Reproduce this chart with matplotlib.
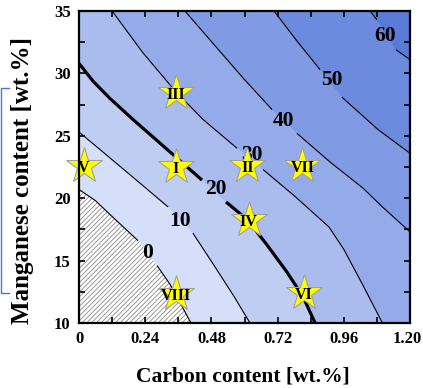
import matplotlib
matplotlib.use("Agg")
import matplotlib.pyplot as plt
import matplotlib.transforms as mtransforms
from matplotlib.ticker import MultipleLocator, FixedLocator
from matplotlib.patches import Polygon
import matplotlib.lines as mlines

# ---- data (carbon wt.%, manganese wt.%) ----
levels = [0, 10, 20, 30, 40, 50, 60]

iso0_c = [0.0, 0.06, 0.112, 0.214, 0.283, 0.33, 0.406]
iso0_mn = [20.7, 19.8, 18.7, 16.6, 14.6, 13.1, 10.0]
iso10_c = [0.0, 0.076, 0.20, 0.323, 0.413, 0.49, 0.56, 0.62]
iso10_mn = [25.3, 23.9, 21.6, 19.3, 17.2, 14.6, 12.2, 10.0]
iso20_c = [0.0, 0.05, 0.112, 0.196, 0.32, 0.446, 0.533, 0.609, 0.68, 0.75, 0.81, 0.856]
iso20_mn = [30.8, 29.4, 28.0, 26.3, 23.9, 21.45, 19.7, 18.3, 16.3, 14.2, 12.2, 10.0]
iso30_c = [0.12, 0.23, 0.348, 0.45, 0.573, 0.667, 0.78, 0.906, 0.96, 1.03, 1.1]
iso30_mn = [35.0, 31.7, 28.6, 26.3, 24.0, 22.3, 20.2, 17.7, 15.9, 13.0, 10.0]
iso40_c = [0.384, 0.482, 0.60, 0.70, 0.79, 0.91, 1.03, 1.1, 1.2]
iso40_mn = [35.0, 32.5, 29.5, 27.1, 25.2, 22.9, 20.8, 19.3, 17.3]
iso50_c = [0.707, 0.79, 0.874, 0.953, 1.084, 1.2]
iso50_mn = [35.0, 32.6, 30.3, 28.1, 25.5, 23.6]
iso60_c = [1.055, 1.08, 1.149, 1.2]
iso60_mn = [35.0, 34.3, 31.9, 31.1]
# index of the point after which the inline label breaks the line
label_gap = [3, 3, 5, 4, 3, 2, 1]
label_c = [0.247, 0.366, 0.497, 0.627, 0.743, 0.917, 1.109]
label_mn = [15.6, 18.2, 20.7, 23.5, 26.2, 29.5, 33.0]

fill_colors = ["#d6dff8", "#bfcdf3", "#aabcee", "#95abe9", "#809ae3", "#6c8ade", "#5a7ad8"]

samples = ["I", "II", "III", "IV", "V", "VI", "VII", "VIII"]
sample_c = [0.35, 0.61, 0.35, 0.615, 0.018, 0.815, 0.81, 0.352]
sample_mn = [22.5, 22.6, 28.4, 18.25, 22.6, 12.4, 22.6, 12.3]

x_ticks = [0, 0.24, 0.48, 0.72, 0.96, 1.20]
x_tick_labels = ["0", "0.24", "0.48", "0.72", "0.96", "1.20"]
y_ticks = [10, 15, 20, 25, 30, 35]

iso_c = [iso0_c, iso10_c, iso20_c, iso30_c, iso40_c, iso50_c, iso60_c]
iso_mn = [iso0_mn, iso10_mn, iso20_mn, iso30_mn, iso40_mn, iso50_mn, iso60_mn]

XMIN, XMAX, YMIN, YMAX = 0.0, 1.2, 10.0, 35.0

plt.rcParams["hatch.linewidth"] = 0.6
serif = ["Liberation Serif", "DejaVu Serif"]

fig = plt.figure(figsize=(4.23, 3.88), dpi=100)
ax = fig.add_axes([79 / 423, 1 - 323 / 388, 331 / 423, 312 / 388])
ax.set_xlim(XMIN, XMAX)
ax.set_ylim(YMIN, YMAX)

# hatched region (below 0)
ax.add_patch(Polygon([(XMIN, YMIN), (XMAX, YMIN), (XMAX, YMAX), (XMIN, YMAX)],
                     closed=True, facecolor="white", edgecolor="#8a8a8a",
                     hatch="///////", lw=0, zorder=0.5))

# filled bands: region above each iso-line
for k, (cs, ms) in enumerate(zip(iso_c, iso_mn)):
    pts = list(zip(cs, ms))
    if abs(ms[-1] - YMIN) < 1e-9:
        pts.append((XMAX, YMIN))
    pts.append((XMAX, YMAX))
    if abs(cs[0] - XMIN) < 1e-9:
        pts.append((XMIN, YMAX))
    ax.add_patch(Polygon(pts, closed=True, facecolor=fill_colors[k],
                         edgecolor="none", lw=0, zorder=1 + k * 0.01))

# iso-lines with inline labels
for k, (cs, ms) in enumerate(zip(iso_c, iso_mn)):
    g = label_gap[k]
    lw = 2.3 if levels[k] == 20 else 0.8
    ax.plot(cs[:g + 1], ms[:g + 1], color="black", lw=lw, zorder=2,
            solid_capstyle="butt", solid_joinstyle="round")
    ax.plot(cs[g + 1:], ms[g + 1:], color="black", lw=lw, zorder=2,
            solid_capstyle="butt", solid_joinstyle="round")
    ax.text(label_c[k], label_mn[k], str(levels[k]), ha="center", va="center",
            fontsize=15.5, fontweight="bold", family=serif, zorder=3)

# sample stars
ax.plot(sample_c, sample_mn, linestyle="none", marker="*", markersize=27,
        markerfacecolor="#ffff00", markeredgecolor="#a0a0a0", markeredgewidth=0.8,
        zorder=4, clip_on=False)
for name, c, m in zip(samples, sample_c, sample_mn):
    ax.text(c, m - 0.15, name, ha="center", va="center", fontsize=11.5, family=serif,
            fontweight="bold", color="black", zorder=5)

# axes styling
for s in ax.spines.values():
    s.set_linewidth(1.6)
    s.set_zorder(6)
ax.xaxis.set_major_locator(FixedLocator(x_ticks))
ax.set_xticklabels(x_tick_labels)
ax.xaxis.set_minor_locator(MultipleLocator(0.12))
ax.yaxis.set_major_locator(FixedLocator(y_ticks))
ax.yaxis.set_minor_locator(MultipleLocator(2.5))
ax.tick_params(which="both", direction="in", top=True, right=True, width=1.2, length=4)
ax.tick_params(which="major", labelsize=12, pad=6)
for lab in ax.get_xticklabels() + ax.get_yticklabels():
    lab.set_family(serif)
    lab.set_fontweight("bold")
# keep the last x tick label inside the canvas
last = ax.get_xticklabels()[-1]
last.set_transform(last.get_transform() +
                   mtransforms.ScaledTranslation(-3 / 100, 0, fig.dpi_scale_trans))

fig.text(243 / 423, 1 - 376 / 388, "Carbon content [wt.%]", ha="center", va="center",
         fontsize=15.5, fontweight="bold", family=serif)
fig.text(23 / 423, 1 - 180 / 388, "Manganese content [wt.%]", ha="center", va="center",
         rotation=90, fontsize=18, fontweight="bold", family=serif)

# stray blue bracket at the left edge of the reference screenshot
fig.add_artist(mlines.Line2D([9 / 423, 1 / 423, 1 / 423, 9 / 423],
                             [1 - 88 / 388, 1 - 88 / 388, 1 - 293 / 388, 1 - 293 / 388],
                             transform=fig.transFigure, color="#4a78c8", lw=1.0))

fig.savefig("out.png", dpi=100)
